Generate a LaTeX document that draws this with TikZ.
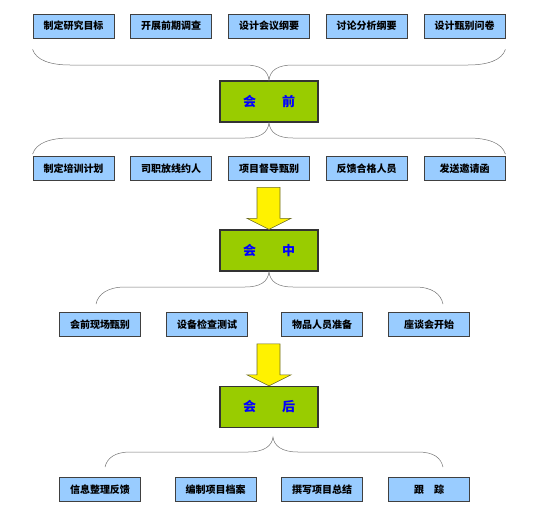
\documentclass[tikz,border=0pt]{standalone}
\usepackage{fontspec}
\setmainfont{Noto Sans CJK SC}[BoldFont={* Black}]
\usetikzlibrary{shadows}
\definecolor{taskblue}{HTML}{99CCFF}
\definecolor{stagegreen}{HTML}{99CC00}
\definecolor{arrowedge}{HTML}{6B6B2A}

\begin{document}
\begin{tikzpicture}[x=1pt, y=-1pt, font=\bfseries\fontsize{10}{12}\selectfont,
    task/.style={draw=black!75, line width=0.8pt, fill=taskblue, minimum width=81pt, minimum height=24pt, inner sep=0pt, drop shadow={shadow xshift=0.8pt, shadow yshift=-0.8pt, fill=black!55, opacity=1}},
    phase/.style={draw=black!80, line width=1.2pt, fill=stagegreen, minimum width=98pt, minimum height=41pt, inner sep=0pt, text=blue, font=\bfseries\fontsize{13}{15}\selectfont},
    brace/.style={draw=black!55, line width=0.5pt},
    bigarrow/.style={draw=arrowedge, fill=yellow, line width=0.6pt}]
    \useasboundingbox (0,0) rectangle (560,509);
    \node[task] (q1) at (73.5,26) {制定研究目标};
    \node[task] (q2) at (171,26) {开展前期调查};
    \node[task] (q3) at (269,26) {设计会议纲要};
    \node[task] (q4) at (366.5,26) {讨论分析纲要};
    \node[task] (q5) at (464.5,26) {设计甄别问卷};
    \node[phase] (qian) at (269,101.5) {会　　前};
    \node[task] (p1) at (73.5,168.5) {制定培训计划};
    \node[task] (p2) at (171,168.5) {司职放线约人};
    \node[task] (p3) at (269,168.5) {项目督导甄别};
    \node[task] (p4) at (366.5,168.5) {反馈合格人员};
    \node[task] (p5) at (464.5,168.5) {发送邀请函};
    \node[phase] (zhong) at (269,250.5) {会　　中};
    \node[task] (z1) at (100,324.5) {会前现场甄别};
    \node[task] (z2) at (207,324.5) {设备检查测试};
    \node[task] (z3) at (322,324.5) {物品人员准备};
    \node[task] (z4) at (429,324.5) {座谈会开始};
    \node[phase] (hou) at (269,407) {会　　后};
    \node[task] (h1) at (100,489.5) {信息整理反馈};
    \node[task] (h2) at (215.5,489.5) {编制项目档案};
    \node[task] (h3) at (322,489.5) {撰写项目总结};
    \node[task] (h4) at (429,489.5) {跟　踪};
    \draw[brace] ([yshift=-11pt]q1.south west) .. controls (36,60) and (50,65) .. (70,65) -- (245,65) .. controls (260,65) and (268,70) .. (qian.north) .. controls (270,70) and (278,65) .. (293,65) -- (468,65) .. controls (488,65) and (502,60) .. ([yshift=-11pt]q5.south east);
    \draw[brace] ([yshift=2pt]p1.north west) .. controls (36,143) and (50,138) .. (70,138) -- (245,138) .. controls (260,138) and (268,133) .. (qian.south) .. controls (270,133) and (278,138) .. (293,138) -- (468,138) .. controls (488,138) and (502,143) .. ([yshift=2pt]p5.north east);
    \draw[brace] ([shift={(-4,-8)}]z1.north) .. controls (98,294) and (108,287) .. (125,287) -- (245,287) .. controls (260,287) and (268,282) .. (zhong.south) .. controls (270,282) and (278,287) .. (293,287) -- (415,287) .. controls (432,287) and (441,294) .. ([shift={(14,-8)}]z4.north);
    \draw[brace] ([shift={(5,-10)}]h1.north) .. controls (107,458) and (115,452) .. (130,452) -- (248,452) .. controls (264,452) and (272,446) .. ([shift={(4,9)}]hou.south) .. controls (274,446) and (282,452) .. (298,452) -- (418,452) .. controls (434,452) and (441,458) .. ([shift={(14,-10)}]h4.north);
    \draw[bigarrow] (zhong.north) -- ++(-22,-11) -- ++(10,0) -- ++(0,-31) -- ++(23,0) -- ++(0,31) -- ++(11,0) -- cycle;
    \draw[bigarrow] (hou.north) -- ++(-22,-11) -- ++(10,0) -- ++(0,-31) -- ++(23,0) -- ++(0,31) -- ++(11,0) -- cycle;
\end{tikzpicture}
\end{document}
